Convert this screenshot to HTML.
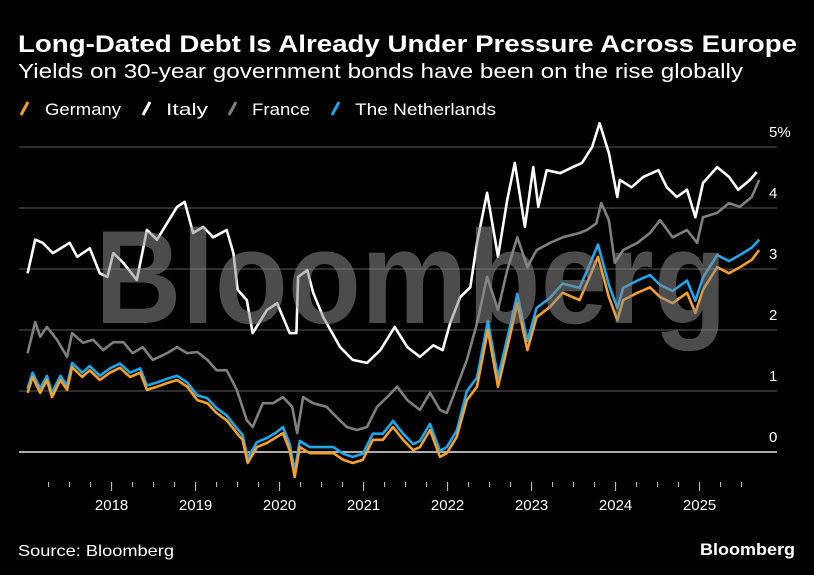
<!DOCTYPE html>
<html><head><meta charset="utf-8">
<style>
html,body{margin:0;padding:0;background:#000;}
svg{display:block;}
text{font-family:"Liberation Sans",sans-serif;}
</style></head>
<body>
<svg id="chart" width="814" height="575" viewBox="0 0 814 575" xmlns="http://www.w3.org/2000/svg">
<rect width="814" height="575" fill="#000"/>
<text x="18" y="52" fill="#fff" font-size="24" font-weight="bold" textLength="779" lengthAdjust="spacingAndGlyphs">Long-Dated Debt Is Already Under Pressure Across Europe</text>
<text x="18" y="78" fill="#fff" font-size="20" textLength="725" lengthAdjust="spacingAndGlyphs">Yields on 30-year government bonds have been on the rise globally</text>
<g>
 <g><line x1="21" y1="115" x2="28" y2="102" stroke="#f5a02c" stroke-width="3"/><text x="45" y="115" fill="#fff" font-size="17" textLength="76" lengthAdjust="spacingAndGlyphs">Germany</text></g>
 <g><line x1="143" y1="115" x2="150" y2="102" stroke="#fff" stroke-width="3"/><text x="166" y="115" fill="#fff" font-size="17" textLength="42" lengthAdjust="spacingAndGlyphs">Italy</text></g>
 <g><line x1="229" y1="115" x2="236" y2="102" stroke="#7f7f7f" stroke-width="3"/><text x="252" y="115" fill="#fff" font-size="17" textLength="58" lengthAdjust="spacingAndGlyphs">France</text></g>
 <g><line x1="332" y1="115" x2="339" y2="102" stroke="#1ea7ea" stroke-width="3"/><text x="355" y="115" fill="#fff" font-size="17" textLength="141" lengthAdjust="spacingAndGlyphs">The Netherlands</text></g>
</g>
<g id="grid"></g>
<g id="xaxis"></g>
<g id="series"></g>
<text x="95" y="323" fill="#8a8a8a" fill-opacity="0.55" font-size="133" font-weight="bold" textLength="632" lengthAdjust="spacingAndGlyphs">Bloomberg</text>
<text x="18" y="556" fill="#fff" font-size="16" textLength="156" lengthAdjust="spacingAndGlyphs">Source: Bloomberg</text>
<text x="700" y="555" fill="#fff" font-size="17" font-weight="bold" textLength="95" lengthAdjust="spacingAndGlyphs">Bloomberg</text>
</svg>
<script>
const yTicks = [0, 1, 2, 3, 4, 5];
const yTickLabels = ["0", "1", "2", "3", "4", "5%"];
const xYears = [2018, 2019, 2020, 2021, 2022, 2023, 2024, 2025];

const italyDates = [2017.0,2017.09,2017.18,2017.3,2017.42,2017.5,2017.59,2017.74,2017.86,2017.95,2018.02,2018.14,2018.3,2018.42,2018.54,2018.66,2018.78,2018.87,2018.97,2019.09,2019.21,2019.37,2019.45,2019.5,2019.61,2019.68,2019.85,2019.97,2020.12,2020.2,2020.22,2020.33,2020.4,2020.52,2020.72,2020.87,2021.04,2021.2,2021.37,2021.52,2021.67,2021.83,2021.94,2022.03,2022.15,2022.27,2022.35,2022.47,2022.6,2022.71,2022.8,2022.92,2023.02,2023.08,2023.18,2023.34,2023.49,2023.6,2023.72,2023.81,2023.92,2024.02,2024.05,2024.19,2024.33,2024.51,2024.61,2024.73,2024.85,2024.95,2025.04,2025.21,2025.35,2025.46,2025.6,2025.68];
const italyValues = [2.93,3.48,3.43,3.26,3.36,3.43,3.20,3.34,2.93,2.87,3.26,3.10,2.82,3.64,3.48,3.75,4.02,4.10,3.59,3.69,3.52,3.64,3.26,2.66,2.49,1.95,2.33,2.44,1.95,1.95,2.87,2.98,2.61,2.21,1.72,1.51,1.46,1.67,2.05,1.72,1.56,1.75,1.67,2.11,2.54,2.70,3.43,4.25,3.20,4.13,4.74,3.69,4.67,4.02,4.62,4.57,4.67,4.74,5.0,5.39,4.90,4.18,4.46,4.34,4.51,4.62,4.34,4.18,4.30,3.85,4.41,4.67,4.51,4.30,4.46,4.59];

const franceDates = [2017.0,2017.09,2017.15,2017.23,2017.35,2017.47,2017.53,2017.66,2017.78,2017.90,2018.02,2018.14,2018.25,2018.37,2018.49,2018.66,2018.78,2018.90,2019.02,2019.14,2019.25,2019.37,2019.49,2019.61,2019.68,2019.80,2019.92,2020.04,2020.15,2020.21,2020.28,2020.40,2020.56,2020.68,2020.80,2020.92,2021.04,2021.16,2021.28,2021.40,2021.52,2021.67,2021.79,2021.91,2021.99,2022.11,2022.23,2022.35,2022.47,2022.60,2022.71,2022.83,2022.95,2023.06,2023.22,2023.37,2023.57,2023.66,2023.77,2023.83,2023.92,2023.99,2024.09,2024.26,2024.41,2024.53,2024.68,2024.85,2024.97,2025.04,2025.21,2025.35,2025.48,2025.62,2025.71];
const franceValues = [1.62,2.13,1.89,2.05,1.84,1.56,1.95,1.79,1.84,1.67,1.80,1.80,1.62,1.72,1.51,1.62,1.72,1.62,1.64,1.51,1.34,1.34,1.02,0.52,0.41,0.80,0.80,0.90,0.74,0.31,0.90,0.80,0.74,0.57,0.41,0.36,0.41,0.74,0.90,1.07,0.85,0.69,0.97,0.69,0.64,1.07,1.51,2.11,2.87,2.33,2.98,3.52,3.03,3.31,3.43,3.52,3.59,3.64,3.75,4.08,3.80,3.10,3.31,3.43,3.59,3.80,3.52,3.64,3.43,3.85,3.92,4.08,4.02,4.18,4.46];

const coreDates = [2017.0,2017.06,2017.15,2017.23,2017.29,2017.39,2017.47,2017.53,2017.65,2017.74,2017.86,2017.98,2018.10,2018.22,2018.34,2018.42,2018.54,2018.66,2018.78,2018.90,2019.02,2019.14,2019.25,2019.37,2019.49,2019.56,2019.62,2019.73,2019.85,2019.97,2020.04,2020.12,2020.18,2020.24,2020.36,2020.48,2020.64,2020.76,2020.87,2020.99,2021.11,2021.23,2021.35,2021.47,2021.59,2021.67,2021.79,2021.91,2021.99,2022.11,2022.23,2022.35,2022.48,2022.60,2022.74,2022.83,2022.95,2023.06,2023.22,2023.37,2023.57,2023.66,2023.79,2023.92,2024.02,2024.09,2024.26,2024.41,2024.53,2024.68,2024.85,2024.95,2025.04,2025.21,2025.35,2025.48,2025.62,2025.71];
const germanyValues = [0.97,1.23,0.97,1.18,0.90,1.18,1.02,1.39,1.23,1.34,1.18,1.30,1.38,1.23,1.30,1.02,1.07,1.13,1.18,1.07,0.85,0.80,0.64,0.52,0.31,0.20,-0.18,0.08,0.15,0.25,0.31,0.03,-0.41,0.08,-0.02,-0.02,-0.02,-0.13,-0.18,-0.13,0.20,0.20,0.41,0.20,0.03,0.08,0.36,-0.08,-0.02,0.25,0.85,1.07,2.0,1.07,1.89,2.44,1.67,2.21,2.38,2.61,2.49,2.77,3.20,2.54,2.16,2.49,2.61,2.70,2.54,2.44,2.61,2.28,2.66,3.03,2.93,3.03,3.15,3.31];
const netherlandsValues = [1.04,1.30,1.04,1.25,0.97,1.25,1.09,1.46,1.30,1.41,1.25,1.37,1.45,1.30,1.37,1.09,1.14,1.20,1.25,1.14,0.93,0.88,0.72,0.60,0.39,0.28,-0.10,0.16,0.23,0.33,0.41,0.13,-0.31,0.18,0.08,0.08,0.08,-0.03,-0.08,-0.03,0.30,0.30,0.51,0.30,0.13,0.18,0.46,0.02,0.08,0.35,1.00,1.22,2.15,1.22,2.04,2.59,1.82,2.36,2.53,2.76,2.69,2.97,3.40,2.74,2.36,2.69,2.81,2.90,2.74,2.64,2.81,2.48,2.86,3.23,3.13,3.23,3.35,3.48];

const NS = "http://www.w3.org/2000/svg";
function xScale(t) { return 111.6 + (t - 2018) * 84; }
function yScale(v) { return 452 - v * 61; }

const grid = document.getElementById('grid');
yTicks.forEach(function (v, i) {
  const ln = document.createElementNS(NS, 'line');
  ln.setAttribute('x1', 19); ln.setAttribute('x2', 777);
  ln.setAttribute('y1', yScale(v)); ln.setAttribute('y2', yScale(v));
  ln.setAttribute('stroke', v === 0 ? '#e6e6e6' : '#5a5a5a');
  ln.setAttribute('stroke-width', v === 0 ? 1.5 : 1);
  
  
  grid.appendChild(ln);
  const tx = document.createElementNS(NS, 'text');
  tx.setAttribute('x', 769); tx.setAttribute('y', yScale(v) - 10);
  tx.setAttribute('fill', '#fff'); tx.setAttribute('font-size', '15');
  tx.textContent = yTickLabels[i];
  
  
  grid.appendChild(tx);
});

const xaxis = document.getElementById('xaxis');
for (let q = 2017.25; q <= 2025.51; q += 0.25) {
  const major = Math.abs(q - Math.round(q)) < 0.01;
  const tk = document.createElementNS(NS, 'line');
  tk.setAttribute('x1', xScale(q)); tk.setAttribute('x2', xScale(q));
  tk.setAttribute('y1', 482); tk.setAttribute('y2', major ? 491 : 487);
  tk.setAttribute('stroke', '#ccc'); tk.setAttribute('stroke-width', 1);
  
  
  xaxis.appendChild(tk);
}
xYears.forEach(function (yr) {
  const tx = document.createElementNS(NS, 'text');
  tx.setAttribute('x', xScale(yr)); tx.setAttribute('y', 510);
  tx.setAttribute('fill', '#fff'); tx.setAttribute('font-size', '15');
  tx.setAttribute('text-anchor', 'middle');
  tx.textContent = String(yr);
  
  
  xaxis.appendChild(tx);
});

const series = document.getElementById('series');
function drawLine(dates, vals, color, name) {
  let d = '';
  dates.forEach(function (t, i) { d += (i ? 'L' : 'M') + xScale(t).toFixed(1) + ',' + yScale(vals[i]).toFixed(1); });
  const p = document.createElementNS(NS, 'path');
  p.setAttribute('d', d);
  p.setAttribute('fill', 'none'); p.setAttribute('stroke', color);
  p.setAttribute('stroke-width', 2.6); p.setAttribute('stroke-linejoin', 'round');
  
  
  series.appendChild(p);
}
drawLine(franceDates, franceValues, '#7f7f7f', 'france-line');
drawLine(italyDates, italyValues, '#ffffff', 'italy-line');
drawLine(coreDates, netherlandsValues, '#1ea7ea', 'netherlands-line');
drawLine(coreDates, germanyValues, '#f5a02c', 'germany-line');
</script>
</body></html>
